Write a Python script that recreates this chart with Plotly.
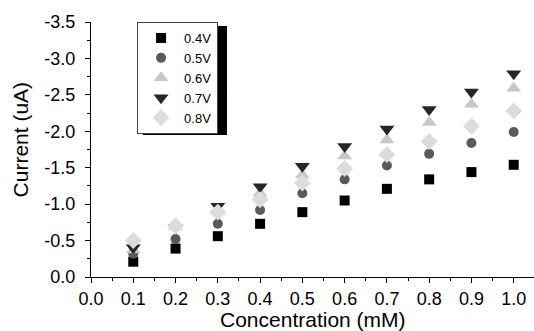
import plotly.graph_objects as go

conc = [0.1, 0.2, 0.3, 0.4, 0.5, 0.6, 0.7, 0.8, 0.9, 1.0]
v04 = [-0.21, -0.39, -0.56, -0.73, -0.89, -1.05, -1.21, -1.34, -1.44, -1.54]
v05 = [-0.32, -0.52, -0.73, -0.92, -1.15, -1.34, -1.53, -1.69, -1.84, -1.99]
v06 = [-0.37, -0.69, -0.90, -1.15, -1.40, -1.66, -1.88, -2.12, -2.37, -2.59]
v07 = [-0.40, -0.68, -0.97, -1.24, -1.52, -1.79, -2.03, -2.30, -2.54, -2.79]
v08 = [-0.50, -0.70, -0.89, -1.06, -1.29, -1.49, -1.68, -1.86, -2.07, -2.28]

x_ticks = [0.0, 0.1, 0.2, 0.3, 0.4, 0.5, 0.6, 0.7, 0.8, 0.9, 1.0]
x_labels = ["0.0", "0.1", "0.2", "0.3", "0.4", "0.5", "0.6", "0.7", "0.8", "0.9", "1.0"]
y_ticks = [0, -0.5, -1.0, -1.5, -2.0, -2.5, -3.0, -3.5]
y_labels = ["0.0", "-0.5", "-1.0", "-1.5", "-2.0", "-2.5", "-3.0", "-3.5"]

series = [
    ("0.4V", v04, "square", "#000000", 10),
    ("0.5V", v05, "circle", "#5a5a5a", 10),
    ("0.6V", v06, "triangle-up", "#c8c8c8", 13),
    ("0.7V", v07, "triangle-down", "#262626", 13),
    ("0.8V", v08, "diamond", "#dcdcdc", 13),
]

fig = go.Figure()
for name, vals, sym, col, sz in series:
    fig.add_trace(go.Scatter(x=conc, y=vals, mode="markers", name=name,
                             marker=dict(symbol=sym, color=col, size=sz, line=dict(width=0))))

font = "Liberation Sans"
tickfont = dict(size=18, family=font, color="black")
fig.update_layout(
    width=534, height=331,
    margin=dict(l=91, r=0, t=22, b=54),
    paper_bgcolor="white", plot_bgcolor="white",
    font=dict(family=font, color="black", size=18),
    showlegend=True,
    legend=dict(x=0.104, y=1.0, xanchor="left", yanchor="top",
                bgcolor="white", bordercolor="#444", borderwidth=1,
                font=dict(size=13, family=font, color="black"), itemwidth=36, tracegroupgap=0),
    shapes=[dict(type="rect", xref="paper", yref="paper",
                 x0=0.117, x1=0.307, y0=0.557, y1=0.984,
                 fillcolor="black", line=dict(width=0), layer="below")],
    annotations=[
        dict(text="Concentration (mM)", xref="paper", yref="paper", x=0.5, y=-0.165,
             xanchor="center", yanchor="middle", showarrow=False, font=dict(size=21, family=font)),
        dict(text="Current (uA)", xref="paper", yref="paper", x=-0.16, y=0.54, textangle=-90,
             xanchor="center", yanchor="middle", showarrow=False, font=dict(size=21, family=font)),
    ],
)
fig.update_xaxes(range=[0, 1.048], tickvals=x_ticks, ticktext=x_labels,
                 ticks="outside", ticklen=5, tickcolor="black", showline=True, linecolor="black",
                 linewidth=1, showgrid=False, zeroline=False, tickfont=tickfont,
                 minor=dict(ticks="outside", ticklen=3, dtick=0.05, tick0=0, tickcolor="black"))
fig.update_yaxes(range=[0, -3.5], tickvals=y_ticks, ticktext=y_labels,
                 ticks="outside", ticklen=5, tickcolor="black", showline=True, linecolor="black",
                 linewidth=1, showgrid=False, zeroline=False, tickfont=tickfont, ticklabelstandoff=6,
                 minor=dict(ticks="outside", ticklen=3, dtick=0.25, tick0=0, tickcolor="black"))

fig.write_html("out.html", config={"displayModeBar": False},
               post_script="document.body.style.margin='0';")
